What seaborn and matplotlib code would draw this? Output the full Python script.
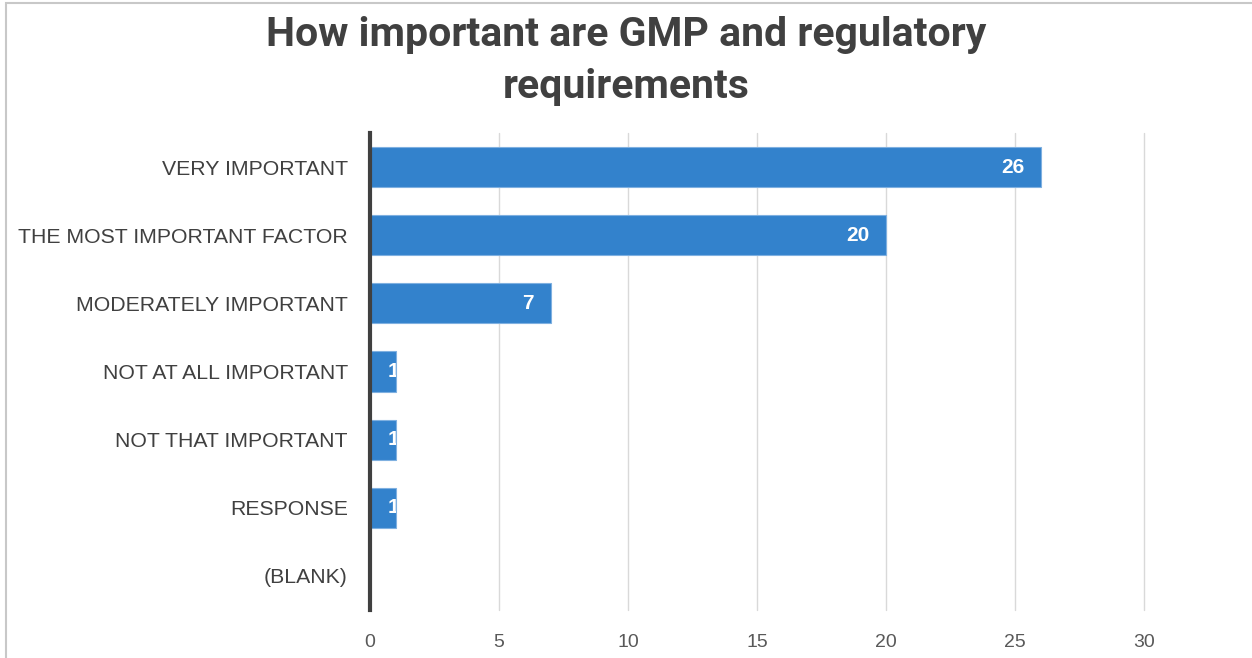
import matplotlib
matplotlib.use("Agg")
import matplotlib.pyplot as plt
from matplotlib.patches import Rectangle
import seaborn as sns
import pandas as pd

# Data
categories = ["VERY IMPORTANT", "THE MOST IMPORTANT FACTOR", "MODERATELY IMPORTANT",
              "NOT AT ALL IMPORTANT", "NOT THAT IMPORTANT", "RESPONSE", "(BLANK)"]
counts = [26, 20, 7, 1, 1, 1, 0]
x_ticks = [0, 5, 10, 15, 20, 25, 30]

df = pd.DataFrame({"answer": categories, "count": counts})

sns.set_style("white")
plt.rcParams["font.family"] = ["Liberation Sans", "DejaVu Sans"]

fig = plt.figure(figsize=(12.52, 6.58), dpi=100)
ax = fig.add_axes([370 / 1252, 1 - 610 / 658, (1144 - 370) / 1252, (610 - 133) / 658])

sns.barplot(data=df, x="count", y="answer", orient="h", color="#3382CC",
            saturation=1, width=0.59, edgecolor="#7fb0e0", linewidth=0.8, ax=ax)

ax.set_xlim(0, 30)
ax.set_xticks(x_ticks)
ax.grid(axis="x", color="#d9d9d9", linewidth=1)
for gl in ax.get_xgridlines():
    gl.set_clip_on(False)
ax.set_axisbelow(True)
for s in ["top", "right", "bottom"]:
    ax.spines[s].set_visible(False)
ax.spines["left"].set_color("#404040")
ax.spines["left"].set_linewidth(3)
ax.tick_params(axis="y", length=0, pad=16, labelsize=15.3, labelcolor="#404040")
ax.tick_params(axis="x", length=0, pad=17, labelsize=14, labelcolor="#595959")
ax.set_xlabel("")
ax.set_ylabel("")

# value labels inside bar ends, clipped to the bar
for bar, v in zip(ax.patches, counts):
    if v <= 0:
        continue
    y = bar.get_y() + bar.get_height() / 2
    if v >= 3:
        t = ax.annotate(str(v), (v, y), xytext=(-12, 0), textcoords="offset points",
                        ha="right", va="center", color="white", fontsize=15,
                        fontweight="bold")
    else:
        t = ax.annotate(str(v), (0, y), xytext=(13, 0), textcoords="offset points",
                        ha="left", va="center", color="white", fontsize=15,
                        fontweight="bold")
    t.set_clip_path(bar)

fig.text(0.5, 1 - 61 / 658, "How important are GMP and regulatory\nrequirements",
         ha="center", va="center", fontsize=29.5, fontweight="bold", color="#404040",
         family=["Roboto", "DejaVu Sans"], linespacing=1.45)

fig.patches.append(Rectangle((6 / 1252, -0.05), 1.1, 1 - 3 / 658 + 0.05,
                             transform=fig.transFigure, fill=False,
                             edgecolor="#c8c8c8", linewidth=1.5))

fig.savefig("out.png", dpi=100)
